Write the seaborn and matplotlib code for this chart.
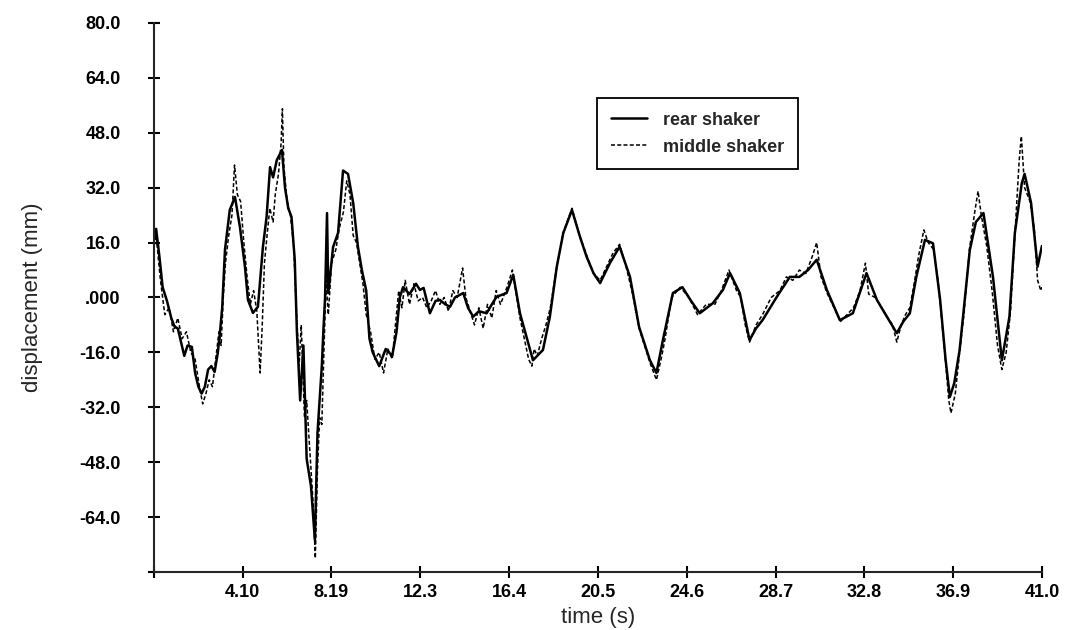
import numpy as np
import seaborn as sns
import pandas as pd
from matplotlib import pyplot as plt

# rear shaker (solid line)
rear_t = [0.0, 0.1, 0.25, 0.4, 0.6, 0.8, 0.95, 1.1, 1.25, 1.4, 1.55, 1.75, 1.9, 2.05, 2.2, 2.35,
          2.5, 2.65, 2.8, 2.95, 3.05, 3.15, 3.28, 3.5, 3.74, 3.97, 4.2, 4.34, 4.57, 4.8, 5.03, 5.2,
          5.36, 5.5, 5.67, 5.91, 6.05, 6.2, 6.35, 6.5, 6.6, 6.75, 6.9, 7.05, 7.25, 7.43, 7.55, 7.75,
          7.82, 7.9, 7.99, 8.05, 8.27, 8.5, 8.73, 8.96, 9.2, 9.42, 9.6, 9.8, 9.95, 10.1, 10.4, 10.7,
          11.0, 11.2, 11.35, 11.5, 11.8, 12.1, 12.28, 12.45, 12.74, 13.0, 13.2, 13.45, 13.67, 13.9,
          14.28, 14.5, 14.74, 15.0, 15.36, 15.6, 15.82, 16.28, 16.59, 16.9, 17.2, 17.5, 17.7, 17.96,
          18.28, 18.6, 18.9, 19.3, 19.67, 19.98, 20.3, 20.6, 21.05, 21.5, 21.98, 22.4, 22.9, 23.2,
          23.5, 23.96, 24.4, 24.8, 25.2, 25.8, 26.27, 26.6, 27.05, 27.5, 27.8, 28.1, 28.76, 29.36,
          29.8, 30.2, 30.6, 31.07, 31.67, 32.27, 32.9, 33.38, 33.84, 34.3, 34.6, 34.9, 35.2, 35.6,
          35.97, 36.3, 36.55, 36.75, 36.95, 37.2, 37.67, 37.95, 38.3, 38.74, 39.15, 39.5, 39.75,
          40.07, 40.2, 40.5, 40.8, 41.0]
rear_mm = [17, 20, 12, 3, -1, -6, -8.5, -9, -13, -17, -14, -14.4, -22, -26, -28, -26,
           -21, -20, -21.7, -16, -10, -3, 14, 25.5, 29.3, 20.5, 9, -0.7, -4.5, -2.7, 14.7, 23.5,
           38, 35, 40, 43, 32, 26, 23.5, 11, -10, -30, -14, -47, -55, -70.7, -39.5, -20,
           -10, 0, 24.6, 1.3, 14.7, 18.8, 37, 36, 27.5, 14.7, 8, 2, -12, -16, -20, -15,
           -17, -10, 0, 3, 1, 4, 2.2, 2.8, -4.6, -1, -0.7, -2, -2.7, 0,
           1.3, -3, -5.6, -4, -4.6, -2, 0.2, 1.3, 6.6, -4.6, -11.4, -18.3, -17, -15.3,
           -5.6, 9, 18.8, 25.5, 17.7, 11.8, 7, 4.2, 10, 14.8, 6, -8.6, -18.3, -22,
           -12.4, 1.3, 3, -1, -4.6, -1.7, 2.2, 7.1, 1.3, -12.4, -9, -6.6, 0.2, 6,
           6, 8, 11, 2.2, -6.6, -4.6, 7.1, -0.7, -5.6, -10.4, -7, -4.6, 6, 16.8,
           15.8, -0.7, -18, -29, -25, -15.3, 13.8, 22, 24.6, 6, -18.3, -5.6, 18.8,
           33.3, 36, 27.5, 9, 15]

# middle shaker (dashed line)
mid_t = [0.0, 0.1, 0.3, 0.5, 0.7, 0.9, 1.1, 1.3, 1.5, 1.7, 1.9, 2.1, 2.25, 2.4, 2.55, 2.7,
         2.85, 3.0, 3.1, 3.2, 3.3, 3.45, 3.6, 3.72, 3.85, 4.0, 4.15, 4.3, 4.45, 4.6, 4.75, 4.9,
         5.0, 5.1, 5.25, 5.35, 5.5, 5.6, 5.75, 5.87, 5.93, 6.0, 6.15, 6.3, 6.45, 6.55, 6.7, 6.8,
         6.95, 7.05, 7.2, 7.35, 7.45, 7.55, 7.65, 7.75, 7.85, 7.95, 8.05, 8.2, 8.4, 8.55, 8.75,
         8.9, 9.05, 9.2, 9.35, 9.5, 9.65, 9.8, 10.0, 10.2, 10.4, 10.6, 10.8, 11.0, 11.15, 11.3,
         11.45, 11.6, 11.8, 12.0, 12.2, 12.4, 12.6, 12.8, 13.0, 13.2, 13.4, 13.6, 13.8, 14.0,
         14.25, 14.4, 14.6, 14.8, 15.0, 15.2, 15.4, 15.6, 15.8, 16.0, 16.3, 16.55, 16.7, 16.9,
         17.1, 17.3, 17.45, 17.55, 17.7, 17.9, 18.1, 18.3, 18.6, 18.9, 19.3, 19.65, 20.0, 20.3,
         20.6, 20.9, 21.2, 21.5, 21.8, 22.1, 22.4, 22.9, 23.2, 23.45, 23.6, 23.9, 24.3, 24.7,
         25.1, 25.5, 25.9, 26.2, 26.55, 26.9, 27.1, 27.3, 27.5, 27.8, 28.1, 28.5, 28.9, 29.2,
         29.5, 29.8, 30.1, 30.4, 30.6, 30.8, 31.1, 31.4, 31.7, 32.0, 32.3, 32.6, 32.85, 33.0,
         33.3, 33.6, 33.9, 34.1, 34.3, 34.5, 34.7, 34.9, 35.1, 35.3, 35.55, 35.75, 36.0, 36.2,
         36.5, 36.7, 36.8, 37.0, 37.2, 37.4, 37.65, 37.9, 38.05, 38.2, 38.45, 38.7, 38.95, 39.15,
         39.35, 39.55, 39.75, 39.95, 40.05, 40.2, 40.45, 40.65, 40.8, 40.95, 41.0]
mid_mm = [15, 18, 5, -5, -3, -10, -6, -12, -10, -16, -18, -26, -31, -28, -24, -26,
          -18, -10, -14, 0, 10, 18, 24, 38.6, 30, 28, 16, 6, -2, 2, -4, -22,
          -8, 10, 20, 26, 22, 30, 36, 45, 55, 38, 28, 24, 15, 0, -20, -8,
          -35, -30, -45, -60, -76, -50, -35, -37, -15, 5, -5, 10, 14, 20, 25,
          34, 30, 18, 16, 10, 4, -5, -10, -18, -16, -22, -15, -18, -8, 2,
          -3, 5, -2, 4, -1, 0, -3, -1, 2, -2, 0, -4, 2, 0,
          8.6, 0, -4, -8, -3, -9, -2, -6, 2, -2, 3, 8, 2, -6,
          -12, -18, -20, -15, -17, -12, -8, -3, 9, 19, 26, 18, 12, 7,
          5, 9, 13, 15.5, 9, 1, -9, -19, -24, -17, -12, 0, 3, 0,
          -5, -2, -2, 2, 8, 2, 0, -8, -13, -8, -5, 0, 2, 6,
          5, 8, 7, 12, 16, 6, 1, -3, -7, -5, -3, 2, 10, 1,
          0, -3, -6, -8, -13, -8, -5, -3, 4, 12, 19.7, 16, 14, 5,
          -15, -30, -33.7, -28, -16, -5, 14, 25, 31, 24, 15, 2, -14, -21,
          -16, -4, 18, 40, 47, 32, 28, 20, 5, 2, 3]

y_ticks = [80, 64, 48, 32, 16, 0, -16, -32, -48, -64, -80]
y_labels = ["80.0", "64.0", "48.0", "32.0", "16.0", ".000", "-16.0", "-32.0", "-48.0", "-64.0", ""]
x_ticks = [0, 4.10, 8.19, 12.3, 16.4, 20.5, 24.6, 28.7, 32.8, 36.9, 41.0]
x_labels = ["", "4.10", "8.19", "12.3", "16.4", "20.5", "24.6", "28.7", "32.8", "36.9", "41.0"]

sns.set_style("ticks")
plt.rcParams['font.family'] = ['Liberation Sans', 'DejaVu Sans']

fig = plt.figure(figsize=(10.67, 6.3), dpi=100)
ax = fig.add_axes([0.1443, 0.0921, 0.8322, 0.8714])

sns.lineplot(x=rear_t, y=rear_mm, ax=ax, color="black", linewidth=1.8,
             label="rear shaker", estimator=None)
sns.lineplot(x=mid_t, y=mid_mm, ax=ax, color="black", linewidth=1.1,
             linestyle=(0, (2.6, 1.5)), label="middle shaker", estimator=None)

ax.set_xlim(0, 41.0)
ax.set_ylim(-80, 80)
ax.set_xticks(x_ticks)
ax.set_xticklabels(x_labels)
ax.set_yticks(y_ticks)
ax.set_yticklabels(y_labels)
ax.tick_params(axis="both", direction="inout", length=8, width=1.5, colors="black",
               labelsize=13)
ax.tick_params(axis="y", pad=20)
ax.tick_params(axis="x", pad=5)
for lab in ax.get_xticklabels() + ax.get_yticklabels():
    lab.set_fontweight("bold")

sns.despine(ax=ax)
ax.spines["left"].set_linewidth(1.5)
ax.spines["bottom"].set_linewidth(1.5)

ax.set_xlabel("time (s)", fontsize=16, labelpad=4)
ax.set_ylabel("displacement (mm)", fontsize=16, labelpad=26)

leg = ax.legend(loc="upper left", bbox_to_anchor=(0.499, 0.863), borderaxespad=0,
                fancybox=False, framealpha=1, edgecolor="black", fontsize=13,
                handlelength=2.0, borderpad=0.75, labelspacing=0.55, handletextpad=0.9)
leg.get_frame().set_linewidth(1.3)
for txt in leg.get_texts():
    txt.set_fontweight("bold")

fig.savefig("out.png", dpi=100)
